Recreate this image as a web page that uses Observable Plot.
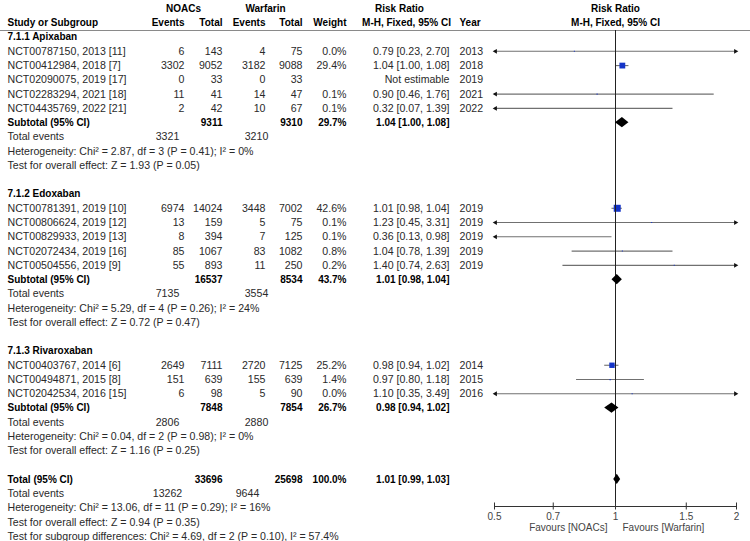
<!DOCTYPE html>
<html>
<head>
<meta charset="utf-8">
<script src="https://cdn.jsdelivr.net/npm/d3@7"></script>
<script src="https://cdn.jsdelivr.net/npm/@observablehq/plot@0.6"></script>
<style>
  body { margin: 0; background: #fff; }
  #chart { position: relative; width: 750px; height: 541px; }
  #chart svg { position: absolute; left: 0; top: 0; }
</style>
</head>
<body>
<div id="chart"></div>
<script>
// ---- Study-level data ----
const groups = ["7.1.1 Apixaban", "7.1.2 Edoxaban", "7.1.3 Rivaroxaban"];
const studyGroup = [0, 0, 0, 0, 0, 1, 1, 1, 1, 1, 2, 2, 2];
const studies = [
  "NCT00787150, 2013 [11]", "NCT00412984, 2018 [7]", "NCT02090075, 2019 [17]",
  "NCT02283294, 2021 [18]", "NCT04435769, 2022 [21]",
  "NCT00781391, 2019 [10]", "NCT00806624, 2019 [12]", "NCT00829933, 2019 [13]",
  "NCT02072434, 2019 [16]", "NCT00504556, 2019 [9]",
  "NCT00403767, 2014 [6]", "NCT00494871, 2015 [8]", "NCT02042534, 2016 [15]"
];
const noacEvents = [6, 3302, 0, 11, 2, 6974, 13, 8, 85, 55, 2649, 151, 6];
const noacTotal = [143, 9052, 33, 41, 42, 14024, 159, 394, 1067, 893, 7111, 639, 98];
const warfEvents = [4, 3182, 0, 14, 10, 3448, 5, 7, 83, 11, 2720, 155, 5];
const warfTotal = [75, 9088, 33, 47, 67, 7002, 75, 125, 1082, 250, 7125, 639, 90];
const weights = [0.0, 29.4, null, 0.1, 0.1, 42.6, 0.1, 0.1, 0.8, 0.2, 25.2, 1.4, 0.0];
const ratio = [0.79, 1.04, null, 0.90, 0.32, 1.01, 1.23, 0.36, 1.04, 1.40, 0.98, 0.97, 1.10];
const ciLow = [0.23, 1.00, null, 0.46, 0.07, 0.98, 0.45, 0.13, 0.78, 0.74, 0.94, 0.80, 0.35];
const ciHigh = [2.70, 1.08, null, 1.76, 1.39, 1.04, 3.31, 0.98, 1.39, 2.63, 1.02, 1.18, 3.49];
const years = [2013, 2018, 2019, 2021, 2022, 2019, 2019, 2019, 2019, 2019, 2014, 2015, 2016];

// ---- Subgroup summaries ----
const subNoacTotal = [9311, 16537, 7848];
const subWarfTotal = [9310, 8534, 7854];
const subWeight = [29.7, 43.7, 26.7];
const subRatio = [1.04, 1.01, 0.98];
const subLow = [1.00, 0.98, 0.94];
const subHigh = [1.08, 1.04, 1.02];
const subNoacEvents = [3321, 7135, 2806];
const subWarfEvents = [3210, 3554, 2880];
const subHeterogeneity = [
  "Heterogeneity: Chi² = 2.87, df = 3 (P = 0.41); I² = 0%",
  "Heterogeneity: Chi² = 5.29, df = 4 (P = 0.26); I² = 24%",
  "Heterogeneity: Chi² = 0.04, df = 2 (P = 0.98); I² = 0%"
];
const subOverall = [
  "Test for overall effect: Z = 1.93 (P = 0.05)",
  "Test for overall effect: Z = 0.72 (P = 0.47)",
  "Test for overall effect: Z = 1.16 (P = 0.25)"
];

// ---- Pooled total ----
const totalNoac = 33696;
const totalWarf = 25698;
const totalWeight = 100.0;
const totalRatio = 1.01, totalLow = 0.99, totalHigh = 1.03;
const totalNoacEvents = 13262;
const totalWarfEvents = 9644;
const totalNotes = [
  "Heterogeneity: Chi² = 13.06, df = 11 (P = 0.29); I² = 16%",
  "Test for overall effect: Z = 0.94 (P = 0.35)",
  "Test for subgroup differences: Chi² = 4.69, df = 2 (P = 0.10), I² = 57.4%"
];

// ---- Axis ----
const axisTicks = [0.5, 0.7, 1, 1.5, 2];
const favourLeft = "Favours [NOACs]";
const favourRight = "Favours [Warfarin]";

// ---- Layout (pixel anchors for the table columns) ----
const col = {
  label: 7, noacEv: 184, noacTot: 222, warfEv: 265, warfTot: 302, weight: 346,
  rr: 449, year: 459, noacHead: 183, warfHead: 265, rrHead: 399, rrSub: 406,
  subEvNoac: 167, subEvWarf: 256, totEvNoac: 167, totEvWarf: 247
};
const FONT = "'Liberation Sans', Arial, Helvetica, sans-serif";
const BLUE = "#1434c8";
const yScale = {domain: [-2, 35], range: [8, 536], axis: null};

const fmtRR = (r, l, h) => `${r.toFixed(2)} [${l.toFixed(2)}, ${h.toFixed(2)}]`;

// ---- Build table rows ----
const cells = [];
const ci = [];
const diamonds = [];
const cell = (i, c, text, style) => cells.push({i, col: c, text: String(text), style});

cell(-2, "noacHead", "NOACs", "bm");
cell(-2, "warfHead", "Warfarin", "bm");
cell(-2, "rrHead", "Risk Ratio", "bm");
cell(-1, "label", "Study or Subgroup", "bs");
cell(-1, "noacEv", "Events", "b");
cell(-1, "noacTot", "Total", "b");
cell(-1, "warfEv", "Events", "b");
cell(-1, "warfTot", "Total", "b");
cell(-1, "weight", "Weight", "b");
cell(-1, "rrSub", "M-H, Fixed, 95% CI", "bm");
cell(-1, "year", "Year", "bs");

let row = 0;
groups.forEach((g, gi) => {
  cell(row++, "label", g, "bs");
  studies.forEach((s, k) => {
    if (studyGroup[k] !== gi) return;
    cell(row, "label", s, "rs");
    cell(row, "noacEv", noacEvents[k], "r");
    cell(row, "noacTot", noacTotal[k], "r");
    cell(row, "warfEv", warfEvents[k], "r");
    cell(row, "warfTot", warfTotal[k], "r");
    if (weights[k] != null) cell(row, "weight", weights[k].toFixed(1) + "%", "r");
    cell(row, "rr", ratio[k] != null ? fmtRR(ratio[k], ciLow[k], ciHigh[k]) : "Not estimable", "r");
    cell(row, "year", years[k], "rs");
    if (ratio[k] != null) ci.push({i: row, rr: ratio[k], lo: ciLow[k], hi: ciHigh[k], weight: weights[k]});
    row++;
  });
  cell(row, "label", "Subtotal (95% CI)", "bs");
  cell(row, "noacTot", subNoacTotal[gi], "b");
  cell(row, "warfTot", subWarfTotal[gi], "b");
  cell(row, "weight", subWeight[gi].toFixed(1) + "%", "b");
  cell(row, "rr", fmtRR(subRatio[gi], subLow[gi], subHigh[gi]), "b");
  diamonds.push({key: g, i: row, est: subRatio[gi], lo: subLow[gi], hi: subHigh[gi]});
  row++;
  cell(row, "label", "Total events", "rs");
  cell(row, "subEvNoac", subNoacEvents[gi], "rm");
  cell(row, "subEvWarf", subWarfEvents[gi], "rm");
  row++;
  cell(row++, "label", subHeterogeneity[gi], "rs");
  cell(row++, "label", subOverall[gi], "rs");
  row++;
});
cell(row, "label", "Total (95% CI)", "bs");
cell(row, "noacTot", totalNoac, "b");
cell(row, "warfTot", totalWarf, "b");
cell(row, "weight", totalWeight.toFixed(1) + "%", "b");
cell(row, "rr", fmtRR(totalRatio, totalLow, totalHigh), "b");
diamonds.push({key: "total", i: row, est: totalRatio, lo: totalLow, hi: totalHigh});
row++;
cell(row, "label", "Total events", "rs");
cell(row, "totEvNoac", totalNoacEvents, "rm");
cell(row, "totEvWarf", totalWarfEvents, "rm");
row++;
totalNotes.forEach(t => cell(row++, "label", t, "rs"));

// Diamond outlines: tip, widest point at the CI, tip
const diamondPts = diamonds.flatMap(d => [
  {key: d.key, y: d.i - 0.36, x1: d.est, x2: d.est},
  {key: d.key, y: d.i, x1: d.lo, x2: d.hi},
  {key: d.key, y: d.i + 0.36, x1: d.est, x2: d.est}
]);

// ---- Table plot ----
const REG = 10.6, BOLD = 10;
const styles = {
  r:  {textAnchor: "end", fontWeight: "normal", fontSize: REG, fill: "#2a2a2a"},
  rs: {textAnchor: "start", fontWeight: "normal", fontSize: REG, fill: "#2a2a2a"},
  rm: {textAnchor: "middle", fontWeight: "normal", fontSize: REG, fill: "#2a2a2a"},
  b:  {textAnchor: "end", fontWeight: "bold", fontSize: BOLD, fill: "#000"},
  bs: {textAnchor: "start", fontWeight: "bold", fontSize: BOLD, fill: "#000"},
  bm: {textAnchor: "middle", fontWeight: "bold", fontSize: BOLD, fill: "#000"}
};
const tableText = Object.entries(styles).map(([key, opts]) =>
  Plot.text(cells.filter(d => d.style === key), {x: d => col[d.col], y: "i", text: "text", ...opts})
);

const table = Plot.plot({
  width: 750, height: 541,
  marginLeft: 0, marginRight: 0, marginTop: 30, marginBottom: 0,
  x: {domain: [0, 750], range: [0, 750], axis: null},
  y: yScale,
  style: {fontFamily: FONT, background: "transparent"},
  marks: [
    Plot.frame({anchor: "top", stroke: "#8a8a8a"}),
    ...tableText
  ]
});

// ---- Forest plot ----
const forest = Plot.plot({
  width: 750, height: 541,
  marginLeft: 494, marginRight: 14, marginTop: 30, marginBottom: 35,
  x: {type: "log", domain: [0.5, 2], clamp: true, label: null},
  y: yScale,
  r: {domain: [0, d3.max(weights)], range: [0, 3.95]},
  style: {fontFamily: FONT, background: "transparent"},
  marks: [
    Plot.ruleY(ci, {y: "i", x1: "lo", x2: "hi", stroke: "#707070", strokeWidth: 1.1}),
    Plot.dot(ci.filter(d => d.lo < 0.5), {x: "lo", y: "i", symbol: "triangle", rotate: -90, r: 1.8, dx: 1, fill: "#111", stroke: null}),
    Plot.dot(ci.filter(d => d.hi > 2), {x: "hi", y: "i", symbol: "triangle", rotate: 90, r: 1.8, dx: -1, fill: "#111", stroke: null}),
    Plot.dot(ci.filter(d => d.rr >= 0.5 && d.rr <= 2), {
      x: "rr", y: "i", symbol: "square", r: d => Math.max(d.weight, 0.9), fill: BLUE, stroke: null
    }),
    Plot.ruleX([1], {stroke: "#222", strokeWidth: 1}),
    Plot.areaX(diamondPts, {x1: "x1", x2: "x2", y: "y", z: "key", fill: "#000"}),
    Plot.frame({anchor: "bottom", stroke: "#333"}),
    Plot.axisX(axisTicks, {tickSize: 7, dy: -3.5, tickFormat: () => "", color: "#333", label: null}),
    Plot.text(axisTicks, {
      x: d => d, text: d => String(d), frameAnchor: "bottom", lineAnchor: "middle",
      dy: 10, fontSize: 10, fill: "#444"
    }),
    Plot.text([favourLeft], {x: () => 1, text: d => d, frameAnchor: "bottom", lineAnchor: "middle", dy: 21, dx: -8, textAnchor: "end", fontSize: 10, fill: "#444"}),
    Plot.text([favourRight], {x: () => 1, text: d => d, frameAnchor: "bottom", lineAnchor: "middle", dy: 21, dx: 7, textAnchor: "start", fontSize: 10, fill: "#444"}),
    Plot.text(["Risk Ratio", "M-H, Fixed, 95% CI"], {x: () => 1, y: (d, k) => k - 2, text: d => d, fontWeight: "bold", fontSize: 10, fill: "#000"})
  ]
});

document.getElementById("chart").append(table, forest);
</script>
</body>
</html>
